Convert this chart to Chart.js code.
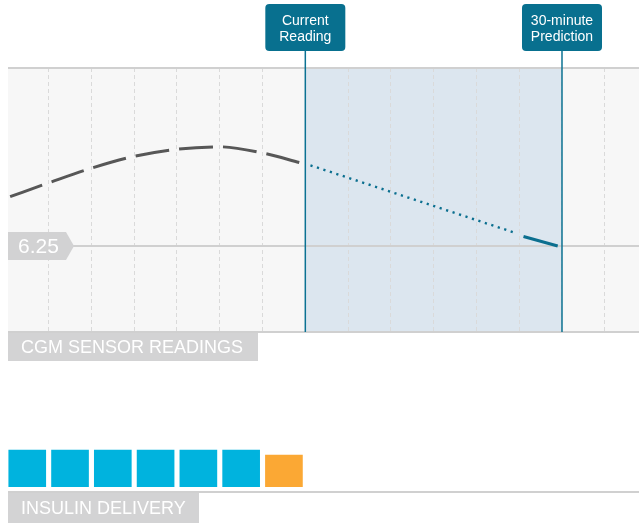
<!DOCTYPE html>
<html>
<head>
<meta charset="utf-8">
<script src="https://cdn.jsdelivr.net/npm/chart.js@4.4.1/dist/chart.umd.min.js"></script>
<style>
  body { margin: 0; background: #fff; }
  canvas { display: block; }
</style>
</head>
<body>
<canvas id="cgm_chart" width="639" height="365"></canvas>
<canvas id="insulin_chart" width="639" height="159"></canvas>
<script>
/* cgm readings + insulin delivery timeline (minutes from current reading) */
var gridMinutes = [-30, -25, -20, -15, -10, -5, 0, 5, 10, 15, 20, 25, 30, 35];
var cgmMinutes = [-34.5, -30, -25, -20, -15, -10, -5, -0.5];
var cgmValues = [7.29, 7.58, 7.89, 8.14, 8.29, 8.34, 8.21, 8.0];
var trendMinutes = [0.6, 24.5];
var trendValues = [7.95, 6.53];
var predMinutes = [25.5, 29.5];
var predValues = [6.45, 6.25];
var thresholdValue = 6.25;
var glucoseMin = 4.44, glucoseMax = 10;
var currentMinute = 0, predictionMinute = 30;
var markerMinutes = [currentMinute, predictionMinute];
var markerLabels = [["Current", "Reading"], ["30-minute", "Prediction"]];
var insulinMinutes = [-32.5, -27.5, -22.5, -17.5, -12.5, -7.5, -2.5];
var insulinUnits = [1, 1, 1, 1, 1, 1, 0.86];
var insulinMax = 2;
var timeMin = -34.75, timeMax = 39;

var FONT = '"Liberation Sans", Arial, sans-serif';

function toPoints(xs, ys) {
    return xs.map(function (x, i) { return { x: x, y: ys[i] }; });
}

function roundRect(ctx, x, y, w, h, r) {
    ctx.beginPath();
    ctx.moveTo(x + r, y);
    ctx.lineTo(x + w - r, y);
    ctx.quadraticCurveTo(x + w, y, x + w, y + r);
    ctx.lineTo(x + w, y + h - r);
    ctx.quadraticCurveTo(x + w, y + h, x + w - r, y + h);
    ctx.lineTo(x + r, y + h);
    ctx.quadraticCurveTo(x, y + h, x, y + h - r);
    ctx.lineTo(x, y + r);
    ctx.quadraticCurveTo(x, y, x + r, y);
    ctx.closePath();
}

function sectionLabel(ctx, text, x, y, w, h) {
    ctx.fillStyle = '#d3d3d4';
    ctx.fillRect(x, y, w, h);
    ctx.fillStyle = '#ffffff';
    ctx.font = '18px ' + FONT;
    ctx.textBaseline = 'middle';
    ctx.textAlign = 'left';
    ctx.fillText(text, x + 13, y + h / 2 + 1);
}

var cgmDecor = {
    id: 'cgmDecor',
    beforeDraw: function (chart) {
        var ctx = chart.ctx, a = chart.chartArea, xs = chart.scales.x;
        ctx.save();
        ctx.fillStyle = '#f7f7f7';
        ctx.fillRect(a.left, a.top, a.right - a.left, a.bottom - a.top);
        var x0 = xs.getPixelForValue(currentMinute), x1 = xs.getPixelForValue(predictionMinute);
        ctx.fillStyle = '#dce6ef';
        ctx.fillRect(x0, a.top, x1 - x0, a.bottom - a.top);
        ctx.restore();
    },
    afterDatasetsDraw: function (chart) {
        var ctx = chart.ctx, a = chart.chartArea, xs = chart.scales.x, ys = chart.scales.y;
        ctx.save();

        // marker lines + label boxes
        markerMinutes.forEach(function (m, i) {
            var px = xs.getPixelForValue(m);
            ctx.strokeStyle = '#0b7293';
            ctx.lineWidth = 1.5;
            ctx.beginPath();
            ctx.moveTo(px, 50);
            ctx.lineTo(px, a.bottom);
            ctx.stroke();

            ctx.fillStyle = '#08708f';
            roundRect(ctx, px - 40, 4, 80, 47, 4);
            ctx.fill();
            ctx.fillStyle = '#ffffff';
            ctx.font = '14px ' + FONT;
            ctx.textAlign = 'center';
            ctx.textBaseline = 'alphabetic';
            ctx.fillText(markerLabels[i][0], px, 25);
            ctx.fillText(markerLabels[i][1], px, 41);
        });

        // threshold tag
        var ty = ys.getPixelForValue(thresholdValue);
        ctx.fillStyle = '#d2d2d3';
        ctx.beginPath();
        ctx.moveTo(a.left, ty - 14);
        ctx.lineTo(a.left + 58, ty - 14);
        ctx.lineTo(a.left + 66, ty);
        ctx.lineTo(a.left + 58, ty + 14);
        ctx.lineTo(a.left, ty + 14);
        ctx.closePath();
        ctx.fill();
        ctx.fillStyle = '#ffffff';
        ctx.font = '21px ' + FONT;
        ctx.textAlign = 'left';
        ctx.textBaseline = 'middle';
        ctx.fillText(String(thresholdValue), a.left + 10, ty + 1);

        sectionLabel(ctx, 'CGM SENSOR READINGS', a.left, a.bottom + 1, 250, 28);
        ctx.restore();
    }
};

var insulinDecor = {
    id: 'insulinDecor',
    afterDraw: function (chart) {
        var ctx = chart.ctx, a = chart.chartArea;
        ctx.save();
        ctx.strokeStyle = '#d0d0d0';
        ctx.lineWidth = 2;
        ctx.beginPath();
        ctx.moveTo(a.left, a.bottom + 5);
        ctx.lineTo(a.right, a.bottom + 5);
        ctx.stroke();
        sectionLabel(ctx, 'INSULIN DELIVERY', a.left, a.bottom + 6, 191, 30);
        ctx.restore();
    }
};

var cgmChart = new Chart(document.getElementById('cgm_chart'), {
    type: 'line',
    data: {
        datasets: [{
            data: toPoints(cgmMinutes, cgmValues),
            borderColor: '#575757',
            borderWidth: 3,
            borderDash: [34, 10],
            cubicInterpolationMode: 'monotone',
            pointRadius: 0
        }, {
            data: toPoints(trendMinutes, trendValues),
            borderColor: '#0b6f8f',
            borderWidth: 2.4,
            borderDash: [2.2, 4.6],
            tension: 0,
            pointRadius: 0
        }, {
            data: toPoints(predMinutes, predValues),
            borderColor: '#0b6f8f',
            borderWidth: 3,
            tension: 0,
            pointRadius: 0
        }]
    },
    options: {
        responsive: false,
        animation: false,
        devicePixelRatio: 1,
        layout: { padding: { top: 68, left: 8, right: 0, bottom: 33 } },
        plugins: { legend: { display: false }, tooltip: { enabled: false } },
        scales: {
            x: {
                type: 'linear',
                min: timeMin,
                max: timeMax,
                afterBuildTicks: function (axis) {
                    axis.ticks = gridMinutes.map(function (v) { return { value: v }; });
                },
                ticks: { display: false },
                grid: { color: '#dadada', lineWidth: 1, drawTicks: false },
                border: { display: false, dash: [4, 3] }
            },
            y: {
                min: glucoseMin,
                max: glucoseMax,
                afterBuildTicks: function (axis) {
                    axis.ticks = [glucoseMin, thresholdValue, glucoseMax].map(function (v) { return { value: v }; });
                },
                ticks: { display: false },
                grid: { color: '#d0d0d0', lineWidth: 2, drawTicks: false },
                border: { display: false }
            }
        }
    },
    plugins: [cgmDecor]
});

var insulinChart = new Chart(document.getElementById('insulin_chart'), {
    type: 'bar',
    data: {
        datasets: [{
            data: toPoints(insulinMinutes, insulinUnits),
            backgroundColor: function (c) {
                return c.dataIndex === insulinUnits.length - 1 ? '#fba834' : '#00b3de';
            },
            barThickness: 37,
            borderWidth: 0
        }]
    },
    options: {
        responsive: false,
        animation: false,
        devicePixelRatio: 1,
        layout: { padding: { top: 48, left: 8, right: 0, bottom: 37 } },
        plugins: { legend: { display: false }, tooltip: { enabled: false } },
        scales: {
            x: { type: 'linear', min: timeMin, max: timeMax, offset: false, display: false },
            y: { min: 0, max: insulinMax, display: false }
        }
    },
    plugins: [insulinDecor]
});
</script>
</body>
</html>
